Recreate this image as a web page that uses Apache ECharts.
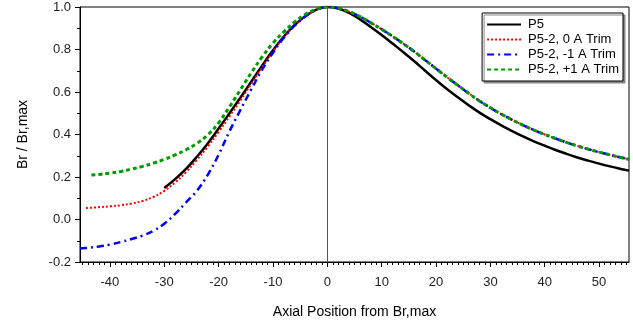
<!DOCTYPE html>
<html>
<head>
<meta charset="utf-8">
<script src="https://cdn.jsdelivr.net/npm/echarts@6/dist/echarts.min.js"></script>
<style>html,body{margin:0;padding:0;background:#fff}#c{width:633px;height:322px}</style>
</head>
<body>
<div id="c"></div>
<script>
// ---- data ----
var seriesNames = ['P5', 'P5-2, 0 A Trim', 'P5-2, -1 A Trim', 'P5-2, +1 A Trim'];
var xTickLabels = [-40, -30, -20, -10, 0, 10, 20, 30, 40, 50];
var yTickLabels = [-0.2, 0.0, 0.2, 0.4, 0.6, 0.8, 1.0];

var p5X = [-30, -28, -26, -24, -22, -20, -18, -16, -14, -12, -10, -8, -6, -4, -2, 0, 2, 4, 6, 8, 10, 12, 14, 16, 18, 20, 22, 24, 26, 28, 30, 32, 34, 36, 38, 40, 42, 44, 46, 48, 50, 52, 54, 55.5];
var p5Y = [0.148, 0.19, 0.238, 0.295, 0.358, 0.428, 0.50, 0.573, 0.648, 0.724, 0.796, 0.861, 0.916, 0.958, 0.988, 1.0, 0.993, 0.972, 0.942, 0.906, 0.868, 0.828, 0.787, 0.745, 0.70, 0.656, 0.614, 0.575, 0.538, 0.503, 0.472, 0.443, 0.416, 0.391, 0.368, 0.347, 0.327, 0.309, 0.292, 0.277, 0.263, 0.25, 0.238, 0.23];

var rightX = [2, 4, 6, 8, 10, 12, 14, 16, 18, 20, 22, 24, 26, 28, 30, 32, 34, 36, 38, 40, 42, 44, 46, 48, 50, 52, 54, 55.5];
var rightY = [0.994, 0.978, 0.955, 0.926, 0.895, 0.862, 0.827, 0.79, 0.75, 0.71, 0.67, 0.632, 0.594, 0.558, 0.526, 0.496, 0.469, 0.444, 0.421, 0.40, 0.381, 0.363, 0.346, 0.331, 0.317, 0.304, 0.292, 0.283];

var trim0X = [-44.4, -42, -40, -38, -36, -34, -32, -30, -28, -26, -24, -22, -20, -18, -16, -14, -12, -10, -8, -6, -4, -2, 0];
var trim0Y = [0.054, 0.058, 0.062, 0.067, 0.075, 0.087, 0.106, 0.135, 0.174, 0.223, 0.28, 0.343, 0.412, 0.485, 0.56, 0.638, 0.716, 0.79, 0.857, 0.914, 0.957, 0.987, 1.0];

var trimMinusX = [-45.5, -44, -42, -40, -38, -36, -34, -32, -30, -28, -26, -24, -22, -20, -18, -16, -14, -12, -10, -8, -6, -4, -2, 0];
var trimMinusY = [-0.137, -0.133, -0.127, -0.118, -0.106, -0.092, -0.076, -0.053, -0.02, 0.026, 0.08, 0.135, 0.21, 0.305, 0.415, 0.515, 0.612, 0.705, 0.785, 0.855, 0.913, 0.957, 0.987, 1.0];

var trimPlusX = [-43.4, -42, -40, -38, -36, -34, -32, -30, -28, -26, -24, -22, -20, -18, -16, -14, -12, -10, -8, -6, -4, -2, 0];
var trimPlusY = [0.209, 0.212, 0.218, 0.226, 0.237, 0.25, 0.265, 0.283, 0.304, 0.328, 0.358, 0.398, 0.455, 0.53, 0.61, 0.69, 0.765, 0.83, 0.883, 0.93, 0.966, 0.99, 1.0];

function pairs(xs, ys) { var o = []; for (var i = 0; i < xs.length; i++) o.push([xs[i], ys[i]]); return o; }
function withRight(xs, ys) { return pairs(xs, ys).concat(pairs(rightX, rightY)); }

var minorX = [];
for (var v = -45; v <= 55; v++) minorX.push(v);

var GRID_TOP = 7, GRID_BOTTOM = 60, H = 322;
var plotH = H - GRID_TOP - GRID_BOTTOM;

var FONT = 'Liberation Sans, Arial, sans-serif';
var chart = echarts.init(document.getElementById('c'), null, {renderer: 'canvas'});
var blackLine = {show: true, onZero: false, lineStyle: {color: '#000', width: 1}};
chart.setOption({
  animation: false,
  backgroundColor: '#fff',
  grid: {left: 80, right: 4, top: GRID_TOP, bottom: GRID_BOTTOM, show: true, borderColor: '#000', borderWidth: 1,
    containLabel: false, outerBoundsMode: 'none'},
  legend: {
    orient: 'vertical', right: 10, top: 13,
    data: seriesNames,
    backgroundColor: '#fff', borderColor: '#000', borderWidth: 1,
    shadowColor: '#888', shadowOffsetX: 2, shadowOffsetY: 2, shadowBlur: 0,
    padding: [5, 4, 5, 4], itemGap: 2, itemWidth: 34, itemHeight: 12,
    itemStyle: {color: 'rgba(0,0,0,0)', borderColor: 'rgba(0,0,0,0)', borderWidth: 0, opacity: 0},
    textStyle: {fontFamily: FONT, fontSize: 13, color: '#000', padding: [0, 0, 0, 2]}
  },
  xAxis: [{
    type: 'value', min: -45.5, max: 55.5, position: 'bottom',
    name: 'Axial Position from Br,max', nameLocation: 'middle', nameGap: 43,
    nameTextStyle: {fontFamily: FONT, fontSize: 14, color: '#000'},
    axisLine: blackLine,
    axisTick: {show: true, length: 5, customValues: xTickLabels, lineStyle: {color: '#000'}},
    axisLabel: {show: true, customValues: xTickLabels, margin: 14, fontFamily: FONT, fontSize: 13, color: '#222'},
    splitLine: {show: false}
  }, {
    // minor ticks: a top axis moved down onto the bottom edge
    type: 'value', min: -45.5, max: 55.5, position: 'top', offset: -plotH,
    axisLine: {show: false, onZero: false},
    axisTick: {show: true, inside: true, length: 3, customValues: minorX, lineStyle: {color: '#000'}},
    axisLabel: {show: false, customValues: minorX},
    splitLine: {show: false}
  }],
  yAxis: {
    type: 'value', min: -0.2, max: 1.0, interval: 0.2,
    name: 'Br / Br,max', nameLocation: 'middle', nameGap: 50,
    nameTextStyle: {fontFamily: FONT, fontSize: 14, color: '#000'},
    axisLine: blackLine,
    axisTick: {show: true, length: 5, lineStyle: {color: '#000'}},
    minorTick: {show: true, splitNumber: 2, length: 3, lineStyle: {color: '#000'}},
    axisLabel: {margin: 9, fontFamily: FONT, fontSize: 13, color: '#222', formatter: function (v) { return v.toFixed(1); }},
    splitLine: {show: false}
  },
  series: [{
    name: seriesNames[0], type: 'line', data: pairs(p5X, p5Y), symbol: 'none', smooth: 0.4, z: 3,
    lineStyle: {color: '#000', width: 2.5, type: 'solid'}, itemStyle: {color: '#000'},
    markLine: {silent: true, symbol: ['none', 'none'], label: {show: false},
      lineStyle: {color: '#555', width: 1, type: 'solid'}, data: [{xAxis: 0}]}
  }, {
    name: seriesNames[1], type: 'line', data: withRight(trim0X, trim0Y), symbol: 'none', smooth: 0.4, z: 4,
    lineStyle: {color: '#ff0000', width: 2, type: [2, 2]}, itemStyle: {color: '#ff0000'}
  }, {
    name: seriesNames[2], type: 'line', data: withRight(trimMinusX, trimMinusY), symbol: 'none', smooth: 0.4, z: 5,
    lineStyle: {color: '#0000ff', width: 2.5, type: [7, 4, 2, 4]}, itemStyle: {color: '#0000ff'}
  }, {
    name: seriesNames[3], type: 'line', data: withRight(trimPlusX, trimPlusY), symbol: 'none', smooth: 0.4, z: 6,
    lineStyle: {color: '#009900', width: 3, type: [4, 3]}, itemStyle: {color: '#009900'}
  }]
});
</script>
</body>
</html>
